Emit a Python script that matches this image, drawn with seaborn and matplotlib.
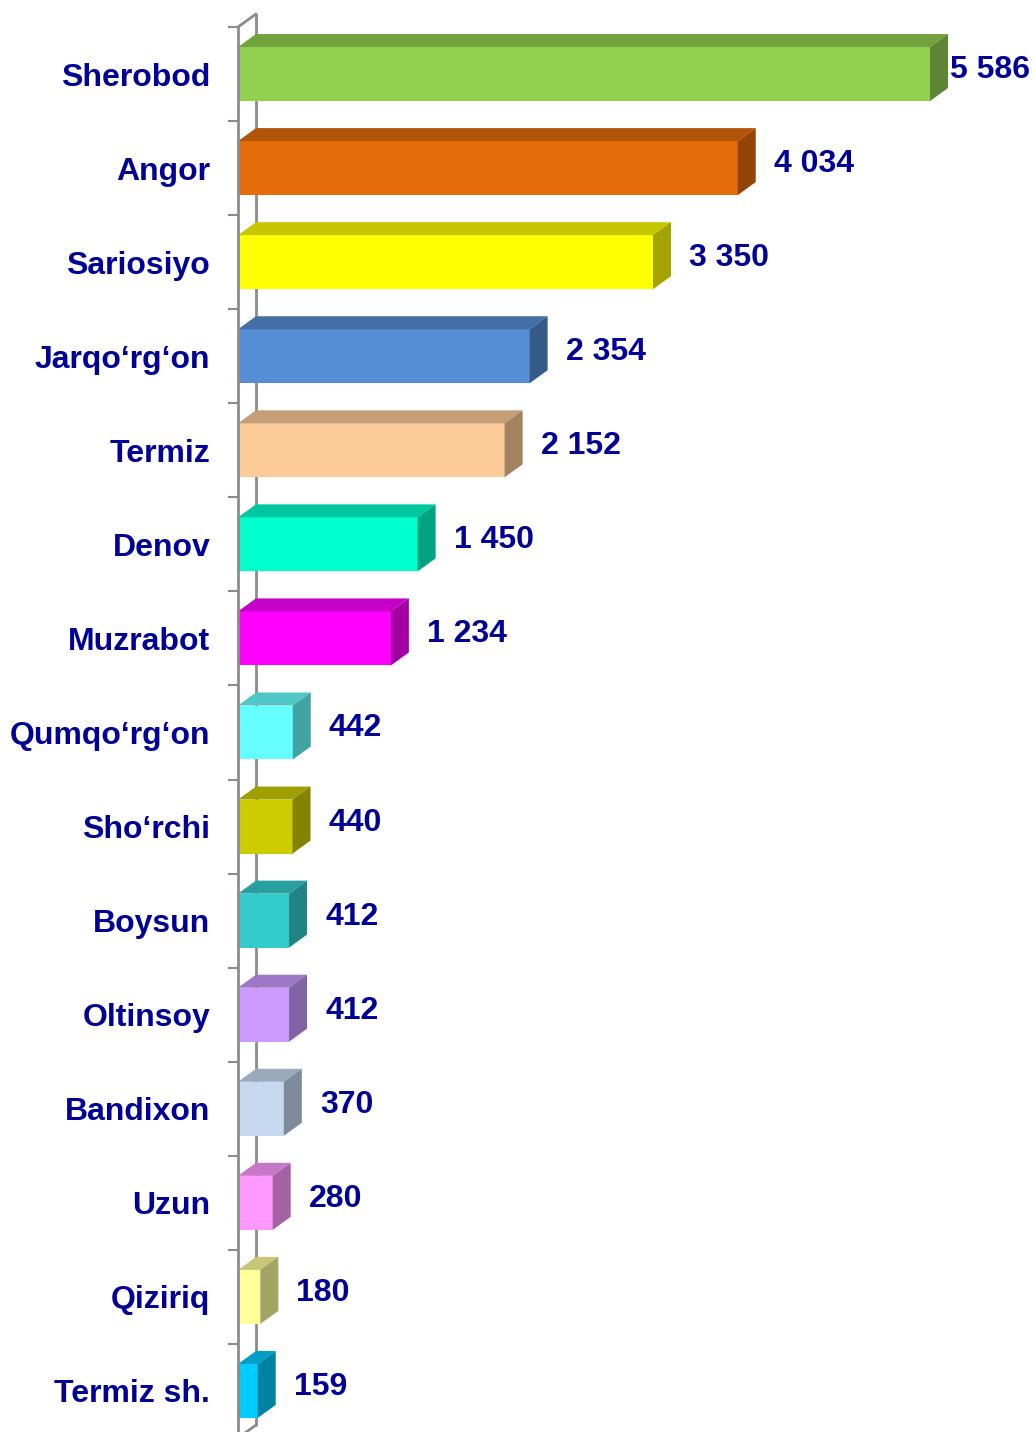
import numpy as np
import pandas as pd
import matplotlib
matplotlib.use("Agg")
import matplotlib.pyplot as plt
import matplotlib.colors as mcolors
from matplotlib.patches import Polygon
import seaborn as sns

# ---- data ----
districts = ["Sherobod", "Angor", "Sariosiyo", "Jarqo\u2018rg\u2018on", "Termiz", "Denov",
             "Muzrabot", "Qumqo\u2018rg\u2018on", "Sho\u2018rchi", "Boysun", "Oltinsoy",
             "Bandixon", "Uzun", "Qiziriq", "Termiz sh."]
values = [5586, 4034, 3350, 2354, 2152, 1450, 1234, 442, 440, 412, 412, 370, 280, 180, 159]
bar_colors = ["#92D050", "#E46C0A", "#FFFF00", "#558ED5", "#FCCB98", "#00FFCC",
              "#FF00FF", "#66FFFF", "#CCCC00", "#33CCCC", "#CC99FF", "#C6D9F1",
              "#FF99FF", "#FFFF99", "#00CCFF"]

TEXT = "#000099"
AXIS = "#8C8C8C"

sns.set_theme(style="white")
plt.rcParams["font.family"] = ["Liberation Sans", "DejaVu Sans"]

W, H = 1034, 1432
fig = plt.figure(figsize=(W / 100, H / 100), dpi=100)
left_px, right_px, top_px, bot_px = 238, 1034, 27, 1438
ax = fig.add_axes([left_px / W, 1 - bot_px / H, (right_px - left_px) / W, (bot_px - top_px) / H])

df = pd.DataFrame({"district": districts, "value": values})
sns.barplot(data=df, x="value", y="district", hue="district", palette=bar_colors,
            legend=False, orient="h", width=0.574, saturation=1, ax=ax,
            linewidth=0, zorder=3)

n = len(districts)
px_per_unit = 692 / 5586
xmax = (right_px - left_px) / px_per_unit
ax.set_xlim(0, xmax)
ax.set_ylim(n - 0.5, -0.5)

row_px = (bot_px - top_px) / n
dx = 18 / px_per_unit
dy = 13 / row_px

def shade(c, f):
    r, g, b = mcolors.to_rgb(c)
    return (r * f, g * f, b * f)

texts = []
# 3D top and side faces from each bar patch
for patch, col, v in zip(ax.patches, bar_colors, values):
    x0 = patch.get_x()
    y0 = patch.get_y()
    h = patch.get_height()
    w = patch.get_width()
    ytop = y0
    ybot = y0 + h
    top = Polygon([(x0, ytop), (x0 + w, ytop), (x0 + w + dx, ytop - dy), (x0 + dx, ytop - dy)],
                  closed=True, facecolor=shade(col, 0.78), edgecolor="none", zorder=3)
    side = Polygon([(x0 + w, ytop), (x0 + w + dx, ytop - dy), (x0 + w + dx, ybot - dy), (x0 + w, ybot)],
                   closed=True, facecolor=shade(col, 0.64), edgecolor="none", zorder=3)
    ax.add_patch(top)
    ax.add_patch(side)
    label = f"{v:,}".replace(",", " ")
    t = ax.annotate(label, xy=(x0 + w + dx, y0 + h / 2), xytext=(18, 4),
                    textcoords="offset pixels", ha="left", va="center",
                    fontsize=23, fontweight="bold", color=TEXT, zorder=5,
                    annotation_clip=False)
    texts.append(t)

# keep value labels inside the figure
fig.canvas.draw()
renderer = fig.canvas.get_renderer()
for t in texts:
    bb = t.get_window_extent(renderer)
    overflow = bb.x1 - (W - 4)
    if overflow > 0:
        ox, oy = t.xyann
        t.xyann = (ox - overflow, oy)

# back wall line and diagonals
ax.plot([dx, dx], [-0.5 - dy, n - 0.5 - dy], color=AXIS, lw=2, zorder=1, clip_on=False)
ax.plot([0, dx], [-0.5, -0.5 - dy], color=AXIS, lw=2, zorder=1, clip_on=False)
ax.plot([0, dx], [n - 0.5, n - 0.5 - dy], color=AXIS, lw=2, zorder=1, clip_on=False)

# spines
for s in ["top", "right", "bottom"]:
    ax.spines[s].set_visible(False)
ax.spines["left"].set_color(AXIS)
ax.spines["left"].set_linewidth(2)
ax.spines["left"].set_zorder(4)

ax.set_xticks([])
ax.set_xlabel("")
ax.set_ylabel("")
ax.set_yticks(np.arange(-0.5, n, 1), minor=True)
ax.tick_params(axis="y", which="major", length=0, pad=20)
ax.tick_params(axis="y", which="minor", length=7, width=1.5, color=AXIS, direction="out", left=True)
for lab in ax.get_yticklabels():
    lab.set_fontsize(23)
    lab.set_fontweight("bold")
    lab.set_color(TEXT)

ax.patch.set_alpha(0)
fig.savefig("out.png", dpi=100)
